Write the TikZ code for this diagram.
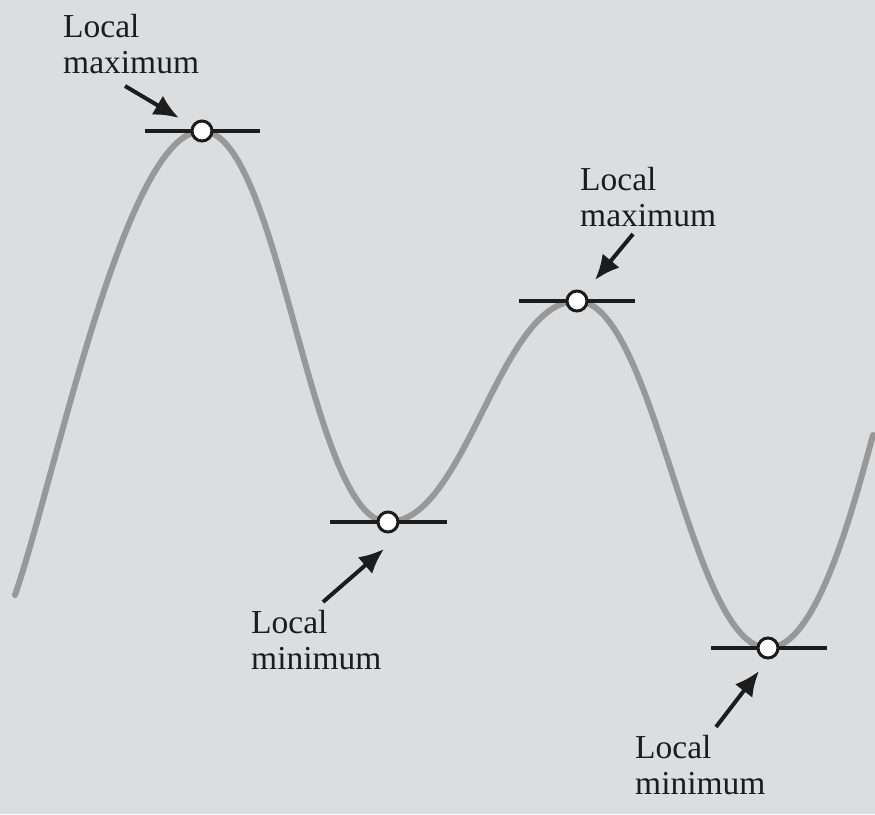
\documentclass[tikz,border=0pt]{standalone}
\usepackage{fontspec}
\setmainfont{Liberation Serif}
\usetikzlibrary{arrows.meta}
\definecolor{bgpaper}{RGB}{220,221,223}
\definecolor{wave}{RGB}{152,152,152}
\definecolor{ink}{RGB}{28,28,28}
\tikzset{
  wavecurve/.style={draw=wave, line width=6pt, line cap=round},
  tangentline/.style={draw=ink, line width=3.2pt},
  extremum/.style={circle, draw=ink, fill=white, line width=3pt, minimum size=20pt, inner sep=0pt},
  pointer/.style={draw=ink, line width=4pt, -{Latex[length=25pt,width=22pt]}},
  caption/.style={align=left, anchor=north west, inner sep=0pt, text=ink,
    font=\fontsize{33.5}{36}\selectfont}
}
\begin{document}
\begin{tikzpicture}[x=1pt,y=-1pt]
  \fill[bgpaper] (0,0) rectangle (875,814);
  \useasboundingbox (0,0) rectangle (875,814);

  % the wave
  \draw[wavecurve] (15,595)
    .. controls (55,480) and (125,131) .. (202,131)
    .. controls (280,131) and (310,522) .. (388,522)
    .. controls (466,522) and (499,301) .. (577,301)
    .. controls (655,301) and (690,648) .. (768,648)
    .. controls (815,648) and (850,520) .. (873,435);

  % horizontal tangents at the turning points
  \draw[tangentline] (145,131) -- (260,131);
  \draw[tangentline] (330,522) -- (447,522);
  \draw[tangentline] (519,301) -- (635,301);
  \draw[tangentline] (711,648) -- (827,648);

  % turning points
  \node[extremum] (max1) at (202,131) {};
  \node[extremum] (min1) at (388,522) {};
  \node[extremum] (max2) at (577,301) {};
  \node[extremum] (min2) at (768,648) {};

  % captions
  \node[caption] (lmax1) at (63,14) {Local\\maximum};
  \node[caption] (lmax2) at (580,167) {Local\\maximum};
  \node[caption] (lmin1) at (251,610) {Local\\minimum};
  \node[caption] (lmin2) at (635,735) {Local\\minimum};

  % pointers
  \coordinate (p1s) at (125,86);  \coordinate (p1e) at (179,118);
  \coordinate (p2s) at (323,602); \coordinate (p2e) at (384,549);
  \coordinate (p3s) at (633,234); \coordinate (p3e) at (595,280);
  \coordinate (p4s) at (716,727); \coordinate (p4e) at (759,671);
  \draw[pointer] (p1s) -- (p1e);
  \draw[pointer] (p2s) -- (p2e);
  \draw[pointer] (p3s) -- (p3e);
  \draw[pointer] (p4s) -- (p4e);
\end{tikzpicture}
\end{document}
